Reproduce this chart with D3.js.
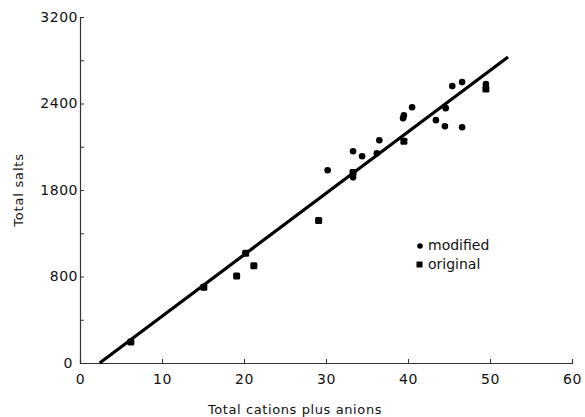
<!DOCTYPE html>
<html><head><meta charset="utf-8">
<script src="https://cdn.jsdelivr.net/npm/d3@7"></script>
<style>
body{margin:0;background:#fff;}
text{font-family:"DejaVu Sans",Verdana,sans-serif;fill:#111;}
</style></head>
<body><svg id="c" width="585" height="417"></svg>
<script>
// data
const origX = [6.2, 15.1, 19.1, 20.2, 21.2, 29.1, 33.3, 39.5, 49.5];
const origY = [195, 700, 805, 1015, 900, 1318, 1763, 2051, 2533];
const modX = [30.2, 33.3, 34.4, 33.3, 36.2, 36.5, 39.4, 39.5, 40.5, 43.4, 44.5, 46.6, 44.6, 45.4, 46.6, 49.5];
const modY = [1782, 1958, 1912, 1717, 1940, 2060, 2264, 2290, 2366, 2246, 2190, 2181, 2357, 2561, 2598, 2580];
const fitX = [2.4, 52.2];
const fitY = [0, 2830];
const xTicks = [0, 10, 20, 30, 40, 50, 60];
const xTickLabels = ["0", "10", "20", "30", "40", "50", "60"];
const yTicks = [0, 400, 800, 1200, 1600, 2000, 2400, 2800, 3200];
const yTickLabels = ["0", "", "800", "", "1800", "", "2400", "", "3200"];
const legendLabels = ["modified", "original"];

const svg = d3.select("#c");
const x = d3.scaleLinear().domain([0, 60]).range([80, 572]);
const y = d3.scaleLinear().domain([0, 3200]).range([363, 17]);

// axes
const xa = svg.append("g").attr("transform", `translate(0,${y(0)})`)
  .call(d3.axisBottom(x).tickValues(xTicks).tickSize(-4).tickPadding(11)
    .tickFormat((d, i) => xTickLabels[i]));
xa.selectAll("text").attr("font-size", 14).attr("letter-spacing", 0.5);
const ya = svg.append("g").attr("transform", `translate(${x(0)},0)`)
  .call(d3.axisLeft(y).tickValues(yTicks).tickSize(-4).tickPadding(2)
    .tickFormat((d, i) => yTickLabels[i]));
ya.selectAll("text").attr("font-size", 14).attr("letter-spacing", 0.5);
ya.selectAll(".tick").filter(d => d === 0).select("text").attr("dx", -5);
svg.selectAll(".domain").attr("stroke", "#333").attr("stroke-width", 1.2);
svg.selectAll(".tick line").attr("stroke", "#333");

// fit line
svg.append("path")
  .datum(fitX.map((v, i) => [v, fitY[i]]))
  .attr("d", d3.line().x(d => x(d[0])).y(d => y(d[1])))
  .attr("stroke", "#000").attr("stroke-width", 3.2).attr("fill", "none");

// points
svg.append("g").selectAll("circle")
  .data(modX.map((v, i) => [v, modY[i]]))
  .join("circle").attr("cx", d => x(d[0])).attr("cy", d => y(d[1])).attr("r", 3.3).attr("fill", "#000");
svg.append("g").selectAll("rect")
  .data(origX.map((v, i) => [v, origY[i]]))
  .join("rect").attr("x", d => x(d[0]) - 3.5).attr("y", d => y(d[1]) - 3.5)
  .attr("width", 7).attr("height", 7).attr("rx", 1.5).attr("fill", "#000");

// legend
const lg = svg.append("g");
lg.append("circle").attr("cx", 420).attr("cy", 246).attr("r", 2.8).attr("fill", "#000");
lg.append("rect").attr("x", 416.5).attr("y", 261.5).attr("width", 6).attr("height", 6).attr("fill", "#000");
lg.selectAll("text").data(legendLabels).join("text")
  .attr("x", 428).attr("y", (d, i) => 250 + i * 19).attr("font-size", 14).text(d => d);

// axis titles
svg.append("text").attr("x", 295).attr("y", 414).attr("text-anchor", "middle")
  .attr("font-size", 13).attr("letter-spacing", 0.6).text("Total cations plus anions");
svg.append("text").attr("transform", "translate(23,190) rotate(-90)").attr("text-anchor", "middle")
  .attr("font-size", 13).attr("letter-spacing", 0.8).text("Total salts");
</script></body></html>
